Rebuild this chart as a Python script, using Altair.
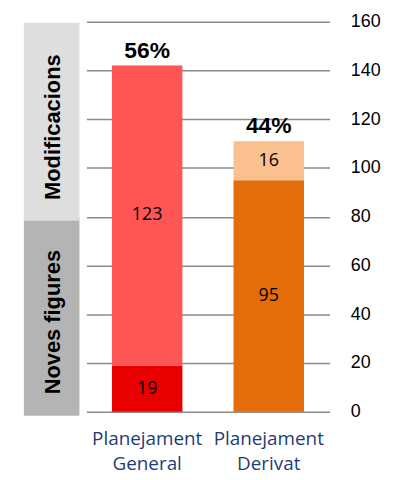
import altair as alt
import pandas as pd

categories = ["Planejament General", "Planejament Derivat"]
series = ["Noves figures", "Modificacions"]
noves_figures = [19, 95]
modificacions = [123, 16]
percent_labels = ["56%", "44%"]
y_ticks = [0, 20, 40, 60, 80, 100, 120, 140, 160]
band_labels = ["Noves figures", "Modificacions"]
band_low = [0, 80]
band_high = [80, 160]

seg_keys = ["General-Noves", "General-Modif", "Derivat-Noves", "Derivat-Modif"]
seg_colors = ["#e80000", "#ff5555", "#e46c0a", "#fac090"]
band_colors = ["#b4b4b4", "#dedede"]

rows = []
for i, cat in enumerate(categories):
    short = cat.split(" ")[1]
    nf = noves_figures[i]
    md = modificacions[i]
    rows.append({"cat": cat, "serie": series[0], "value": nf, "y0": 0, "y1": nf,
                 "key": f"{short}-Noves"})
    rows.append({"cat": cat, "serie": series[1], "value": md, "y0": nf, "y1": nf + md,
                 "key": f"{short}-Modif"})
seg_df = pd.DataFrame(rows)
seg_df["mid"] = (seg_df["y0"] + seg_df["y1"]) / 2

tot_df = pd.DataFrame({
    "cat": categories,
    "total": [a + b for a, b in zip(noves_figures, modificacions)],
    "pct": percent_labels,
})

band_df = pd.DataFrame({"label": band_labels, "lo": band_low, "hi": band_high,
                        "col": band_colors, "order": [0, 1]})
band_df["mid"] = (band_df["lo"] + band_df["hi"]) / 2

x_enc = alt.X("cat:N", sort=categories,
              scale=alt.Scale(paddingInner=0.42, paddingOuter=0.21),
              axis=alt.Axis(title=None, labelAngle=0, domain=False, ticks=False,
                            labelExpr="split(datum.label, ' ')",
                            labelFont="Open Sans", labelFontSize=19,
                            labelColor="#1f3b73", labelPadding=18,
                            labelLineHeight=25))
y_scale = alt.Scale(domain=[0, 160], nice=False)

bars = alt.Chart(seg_df).mark_bar(size=71).encode(
    x=x_enc,
    y=alt.Y("y1:Q", scale=y_scale,
            axis=alt.Axis(orient="right", title=None, values=y_ticks, domain=False,
                          ticks=False, grid=True, gridColor="#8a8a8a", gridWidth=1.5,
                          labelFont="Liberation Sans", labelFontSize=18,
                          labelColor="#000000", labelPadding=21)),
    y2="y0:Q",
    color=alt.Color("key:N", scale=alt.Scale(domain=seg_keys, range=seg_colors),
                    legend=None),
)

seg_text = alt.Chart(seg_df).mark_text(font="Open Sans", fontSize=18, color="#000000",
                                       baseline="middle").encode(
    x=alt.X("cat:N", sort=categories),
    y=alt.Y("mid:Q", scale=y_scale),
    text=alt.Text("value:Q"),
)

pct_text = alt.Chart(tot_df).mark_text(font="Liberation Sans", fontSize=23,
                                       fontWeight="bold", color="#000000",
                                       baseline="alphabetic", dy=-8).encode(
    x=alt.X("cat:N", sort=categories),
    y=alt.Y("total:Q", scale=y_scale),
    text="pct:N",
)

bands = alt.Chart(band_df).mark_rect(yOffset=1, y2Offset=4).encode(
    x=alt.value(-63), x2=alt.value(-7),
    y=alt.Y("hi:Q", scale=y_scale),
    y2="lo:Q",
    color=alt.Color("col:N", scale=None, legend=None),
    order=alt.Order("order:Q"),
)

band_text = alt.Chart(band_df).mark_text(font="Liberation Sans", fontSize=22,
                                         fontWeight="bold", color="#000000",
                                         angle=270, baseline="middle", align="center",
                                         yOffset=8).encode(
    x=alt.value(-34),
    y=alt.Y("mid:Q", scale=y_scale),
    text="label:N",
)

chart = alt.layer(bands, band_text, bars, seg_text, pct_text).properties(
    width=245, height=393,
    autosize=alt.AutoSizeParams(type="none"),
    padding={"left": 79, "top": 12, "right": 70, "bottom": 66},
).configure_view(stroke=None)

chart.save("out.html", embed_options={"renderer": "svg", "actions": False})
